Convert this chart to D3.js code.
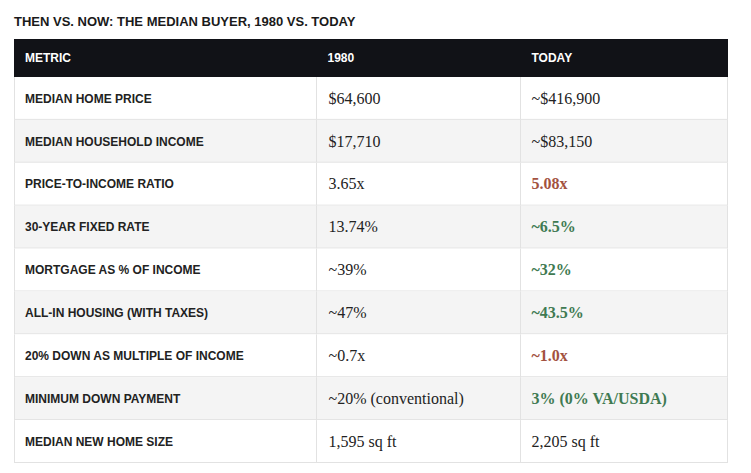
<!DOCTYPE html>
<html><head><meta charset="utf-8">
<script src="https://cdn.jsdelivr.net/npm/d3@7"></script>
<style>body{margin:0;background:#fff;}</style>
</head><body>
<svg id="chart" width="751" height="473"></svg>
<script>
const title = "THEN VS. NOW: THE MEDIAN BUYER, 1980 VS. TODAY";
const headers = ["METRIC", "1980", "TODAY"];
const metrics = ["MEDIAN HOME PRICE","MEDIAN HOUSEHOLD INCOME","PRICE-TO-INCOME RATIO","30-YEAR FIXED RATE","MORTGAGE AS % OF INCOME","ALL-IN HOUSING (WITH TAXES)","20% DOWN AS MULTIPLE OF INCOME","MINIMUM DOWN PAYMENT","MEDIAN NEW HOME SIZE"];
const values1980 = ["$64,600","$17,710","3.65x","13.74%","~39%","~47%","~0.7x","~20% (conventional)","1,595 sq ft"];
const valuesToday = ["~$416,900","~$83,150","5.08x","~6.5%","~32%","~43.5%","~1.0x","3% (0% VA/USDA)","2,205 sq ft"];
// highlight: "worse" = red, "better" = green, "" = plain
const todayTone = ["","","worse","better","better","better","worse","better",""];

const svg = d3.select("#chart");
const left = 14, right = 728, headTop = 39, headBottom = 77, bottom = 463;
const x = d3.scaleOrdinal().domain([0,1,2]).range([left, 316.5, 520.5]);
const y = d3.scaleBand().domain(d3.range(metrics.length)).range([headBottom, bottom]);
const toneColor = {worse:"#a3523f", better:"#3f7a52", "":"#222"};

svg.append("text").attr("x", left).attr("y", 26)
  .attr("font-family","Liberation Sans, Arial, sans-serif").attr("font-weight","bold")
  .attr("font-size",13).attr("fill","#1a1a1a").text(title);

svg.append("rect").attr("x", left).attr("y", headTop).attr("width", right-left).attr("height", headBottom-headTop).attr("fill","#111217");
svg.selectAll(".h").data(headers).join("text")
  .attr("x",(d,i)=>x(i)+11).attr("y",(headTop+headBottom)/2).attr("dy","0.35em")
  .attr("font-family","Liberation Sans, Arial, sans-serif").attr("font-weight","bold")
  .attr("font-size",12).attr("fill","#fff").text(d=>d);

const rows = svg.selectAll(".row").data(metrics).join("g").attr("transform",(d,i)=>`translate(0,${y(i)})`);
rows.append("rect").attr("x",left).attr("width",right-left).attr("height",y.bandwidth())
  .attr("fill",(d,i)=>i%2===1?"#f4f4f4":"#fff");
rows.append("line").attr("x1",left).attr("x2",right).attr("y1",y.bandwidth()-0.5).attr("y2",y.bandwidth()-0.5).attr("stroke","#e2e2e2");
[left+0.5, 316.5, 520.5, right-0.5].forEach(cx=>{
  rows.append("line").attr("x1",cx).attr("x2",cx).attr("y1",0).attr("y2",y.bandwidth()).attr("stroke","#e2e2e2");
});
rows.append("text").attr("x",x(0)+11).attr("y",y.bandwidth()/2).attr("dy","0.35em")
  .attr("font-family","Liberation Sans, Arial, sans-serif").attr("font-weight","bold")
  .attr("font-size",12).attr("fill","#222").text(d=>d);
rows.append("text").attr("x",x(1)+12).attr("y",y.bandwidth()/2).attr("dy","0.33em")
  .attr("font-family","Liberation Serif, Georgia, serif")
  .attr("font-size",16).attr("fill","#222").text((d,i)=>values1980[i]);
rows.append("text").attr("x",x(2)+11).attr("y",y.bandwidth()/2).attr("dy","0.33em")
  .attr("font-family","Liberation Serif, Georgia, serif")
  .attr("font-size",16)
  .attr("font-weight",(d,i)=>todayTone[i]?"bold":"normal")
  .attr("fill",(d,i)=>toneColor[todayTone[i]]).text((d,i)=>valuesToday[i]);
</script>
</body></html>
